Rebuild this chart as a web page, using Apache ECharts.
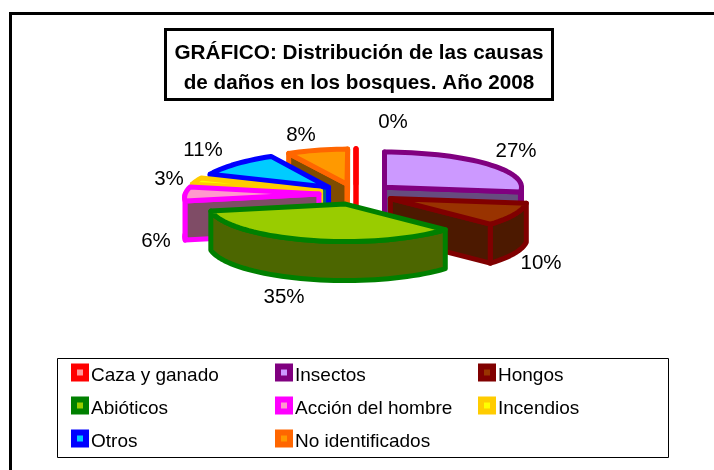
<!DOCTYPE html>
<html>
<head>
<meta charset="utf-8">
<style>
  html, body { margin: 0; padding: 0; background: #fff; }
  #chart { width: 714px; height: 470px; }
</style>
<script src="https://cdn.jsdelivr.net/npm/echarts@6/dist/echarts.min.js"></script>
</head>
<body>
<div id="chart"></div>
<script>
  const names = ['Caza y ganado', 'Insectos', 'Hongos', 'Abióticos', 'Acción del hombre', 'Incendios', 'Otros', 'No identificados'];
  const values = [0, 27, 10, 35, 6, 3, 11, 8];
  const fills = ['#FF9999', '#CC99FF', '#993300', '#99CC00', '#FF99CC', '#FFFF00', '#00CCFF', '#FF9900'];
  const borders = ['#FF0000', '#800080', '#800000', '#008000', '#FF00FF', '#FFCC00', '#0000FF', '#FF6600'];
  const legendColumns = [[0, 3, 6], [1, 4, 7], [2, 5]];
  const legendLeft = [71, 275, 478];

  // layout of the tilted pie
  const cx = 356, cy = 193.5, rx = 137, ry = 35, depth = 39, explode = 38;
  // label centres, as Excel placed them by hand
  const labelPos = [[393, 122], [516, 151], [541, 263], [284, 297], [156, 241], [169, 179], [203, 150], [301, 135]];

  const total = values.reduce((a, b) => a + b, 0);
  const toRad = v => v / total * Math.PI * 2;

  /* start and end angle of a slice, clockwise from 12 o'clock */
  function sliceAngles(index) {
    const start = values.slice(0, index).reduce((a, b) => a + b, 0);
    return [toRad(start), toRad(start + values[index])];
  }

  function sideColor(hex) {
    const c = echarts.color.parse(hex);
    return `rgb(${c[0] >> 1},${c[1] >> 1},${c[2] >> 1})`;
  }

  /* rough perspective: far left shrinks, the front grows a little */
  function project(x, y) {
    const scale = x < cx ? 1 - 0.073 * Math.max(0, 205 - y) / ry : 1;
    return [cx + (x - cx) * scale, y + Math.max(0, y - 185) * 0.07];
  }

  function arc(ox, oy, from, to) {
    const pts = [];
    const steps = Math.max(1, Math.ceil((to - from) / 0.05));
    for (let i = 0; i <= steps; i++) {
      const a = from + (to - from) * i / steps;
      pts.push(project(ox + rx * Math.sin(a), oy - ry * Math.cos(a)));
    }
    return pts;
  }

  function renderSlice(index) {
    const [a0, a1] = sliceAngles(index);
    const mid = (a0 + a1) / 2;
    const ox = cx + explode * Math.sin(mid);
    const oy = cy - explode * Math.cos(mid) * ry / rx;
    const down = p => [p[0], p[1] + depth];
    const rim = arc(ox, oy, a0, a1);
    const apex = project(ox, oy);
    const first = rim[0], last = rim[rim.length - 1];
    const face = {stroke: borders[index], fill: sideColor(fills[index]), lineWidth: 5, lineJoin: 'round'};
    const children = [];

    // outer wall, only the part that faces the viewer
    const from = Math.max(a0, Math.PI / 2), to = Math.min(a1, Math.PI * 1.5);
    if (to > from) {
      const front = arc(ox, oy, from, to);
      children.push({type: 'polygon', shape: {points: front.concat(front.slice().reverse().map(down))}, style: face});
    }
    // cut faces
    if (Math.sin(a1) > -1e-6) {
      children.push({type: 'polygon', shape: {points: [apex, last, down(last), down(apex)]}, style: face});
    }
    if (Math.sin(a0) < 1e-6) {
      children.push({type: 'polygon', shape: {points: [apex, first, down(first), down(apex)]}, style: face});
    }
    children.push({type: 'polygon', shape: {points: [apex].concat(rim)}, style: {...face, fill: fills[index]}});
    children.push({
      type: 'text',
      style: {
        x: labelPos[index][0], y: labelPos[index][1],
        text: values[index] + '%', fill: '#000',
        font: '20.5px "Liberation Sans", Arial, sans-serif',
        align: 'center', verticalAlign: 'middle'
      }
    });
    return {type: 'group', children};
  }

  const series = names.map((name, index) => {
    const [a0, a1] = sliceAngles(index);
    return {
      type: 'custom',
      name,
      coordinateSystem: 'none',
      // back slices first, front ones over them
      z: 10 - Math.cos((a0 + a1) / 2),
      silent: true,
      data: [[values[index]]],
      renderItem: () => renderSlice(index)
    };
  });

  const legend = legendColumns.map((col, i) => ({
    orient: 'vertical',
    left: legendLeft[i],
    top: 360,
    padding: 0,
    itemGap: 8,
    itemWidth: 12,
    itemHeight: 12,
    selectedMode: false,
    icon: 'rect',
    formatter: name => `{t|${name}}`,
    textStyle: {
      color: '#000', fontSize: 19,
      fontFamily: '"Liberation Sans", Arial, sans-serif',
      rich: {
        t: {
          color: '#000', fontSize: 19, lineHeight: 20, padding: [6, 0, 0, 0],
          fontFamily: '"Liberation Sans", Arial, sans-serif'
        }
      }
    },
    data: col.map(k => ({
      name: names[k],
      icon: 'rect',
      itemStyle: {color: fills[k], borderColor: borders[k], borderWidth: 6}
    }))
  }));

  const chart = echarts.init(document.getElementById('chart'), null, {renderer: 'canvas'});
  chart.setOption({
    animation: false,
    backgroundColor: '#fff',
    graphic: [
      {type: 'line', z: 1, shape: {x1: 10.5, y1: 13.5, x2: 714, y2: 13.5}, style: {stroke: '#000', lineWidth: 3}},
      {type: 'line', z: 1, shape: {x1: 10.5, y1: 12, x2: 10.5, y2: 470}, style: {stroke: '#000', lineWidth: 3}},
      {type: 'rect', z: 1, shape: {x: 165.5, y: 29.5, width: 387, height: 70}, style: {fill: '#fff', stroke: '#000', lineWidth: 3}},
      {type: 'rect', z: 1, shape: {x: 57.5, y: 358.5, width: 611, height: 99}, style: {fill: '#fff', stroke: '#000', lineWidth: 1}},
      {
        type: 'text', z: 2, x: 359, y: 68,
        style: {
          text: 'GRÁFICO: Distribución de las causas\nde daños en los bosques. Año 2008',
          fill: '#000', font: 'bold 20.7px "Liberation Sans", Arial, sans-serif',
          lineHeight: 30, align: 'center', verticalAlign: 'middle'
        }
      }
    ],
    legend,
    series
  });
</script>
</body>
</html>
